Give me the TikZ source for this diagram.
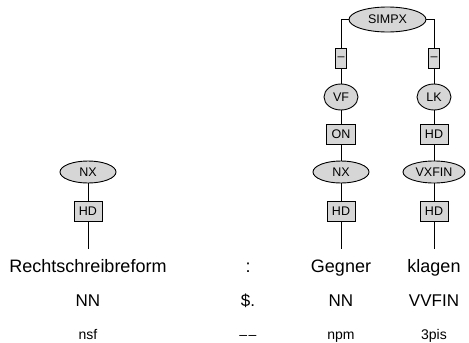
\documentclass[tikz,border=0pt]{standalone}
\usepackage{fontspec}
\setmainfont{Liberation Sans}
\usetikzlibrary{shapes.geometric}

\begin{document}
\begin{tikzpicture}[x=1pt, y=-1pt,
    cat/.style={draw=black, ellipse, fill=black!16, inner sep=0pt, line width=0.9pt, font=\fontsize{12.5}{14}\selectfont},
    fn/.style={draw=black, rectangle, fill=black!16, inner xsep=5pt, inner ysep=0pt, minimum height=20pt, line width=0.9pt, font=\fontsize{12.5}{14}\selectfont},
    wrd/.style={anchor=base, font=\fontsize{18}{20}\selectfont, text height=13pt, text depth=4pt, inner ysep=10pt},
    tag/.style={anchor=base, font=\fontsize{17}{19}\selectfont},
    mrph/.style={anchor=base, font=\fontsize{14}{16}\selectfont},
    lnk/.style={line width=0.9pt, black}
]
\useasboundingbox (0,0) rectangle (469,343);

% tree nodes
\node[cat, minimum width=77pt, minimum height=25pt] (simpx) at (387.5,19.5) {SIMPX};
\node[fn, inner xsep=2pt] (f1) at (341,58.5) {--};
\node[fn, inner xsep=2pt] (f2) at (434,58.5) {--};
\node[cat, minimum width=34pt, minimum height=26pt] (vf) at (341,97) {VF};
\node[cat, minimum width=34pt, minimum height=26pt] (lk) at (434,97) {LK};
\node[fn] (on) at (341,134.5) {ON};
\node[fn] (hd2) at (434,134.5) {HD};
\node[cat, minimum width=56pt, minimum height=22pt] (nx1) at (88,172) {NX};
\node[cat, minimum width=56pt, minimum height=22pt] (nx2) at (341,172) {NX};
\node[cat, minimum width=62pt, minimum height=22pt] (vxfin) at (434,172) {VXFIN};
\node[fn] (hd1) at (88,211.5) {HD};
\node[fn] (hd3) at (341,211.5) {HD};
\node[fn] (hd4) at (434,211.5) {HD};

% words, tags, morphology
\node[wrd] (w1) at (88,272) {Rechtschreibreform};
\node[wrd] (w2) at (248,272) {:};
\node[wrd] (w3) at (341,272) {Gegner};
\node[wrd] (w4) at (434,272) {klagen};
\node[tag] (t1) at (88,306) {NN};
\node[tag] (t2) at (248,306) {\$.};
\node[tag] (t3) at (341,306) {NN};
\node[tag] (t4) at (434,306) {VVFIN};
\node[mrph] (m1) at (88,339) {nsf};
\node[mrph] (m2) at (248,339) {--\kern1.5pt--};
\node[mrph] (m3) at (341,339) {npm};
\node[mrph] (m4) at (434,339) {3pis};

% edges
\draw[lnk] (simpx.west) -| (f1.north);
\draw[lnk] (simpx.east) -| (f2.north);
\draw[lnk] (f1) -- (vf);
\draw[lnk] (f2) -- (lk);
\draw[lnk] (vf) -- (on);
\draw[lnk] (lk) -- (hd2);
\draw[lnk] (on) -- (nx2);
\draw[lnk] (hd2) -- (vxfin);
\draw[lnk] (nx1) -- (hd1);
\draw[lnk] (nx2) -- (hd3);
\draw[lnk] (vxfin) -- (hd4);
\draw[lnk] (hd1) -- (w1);
\draw[lnk] (hd3) -- (w3);
\draw[lnk] (hd4) -- (w4);
\end{tikzpicture}
\end{document}
